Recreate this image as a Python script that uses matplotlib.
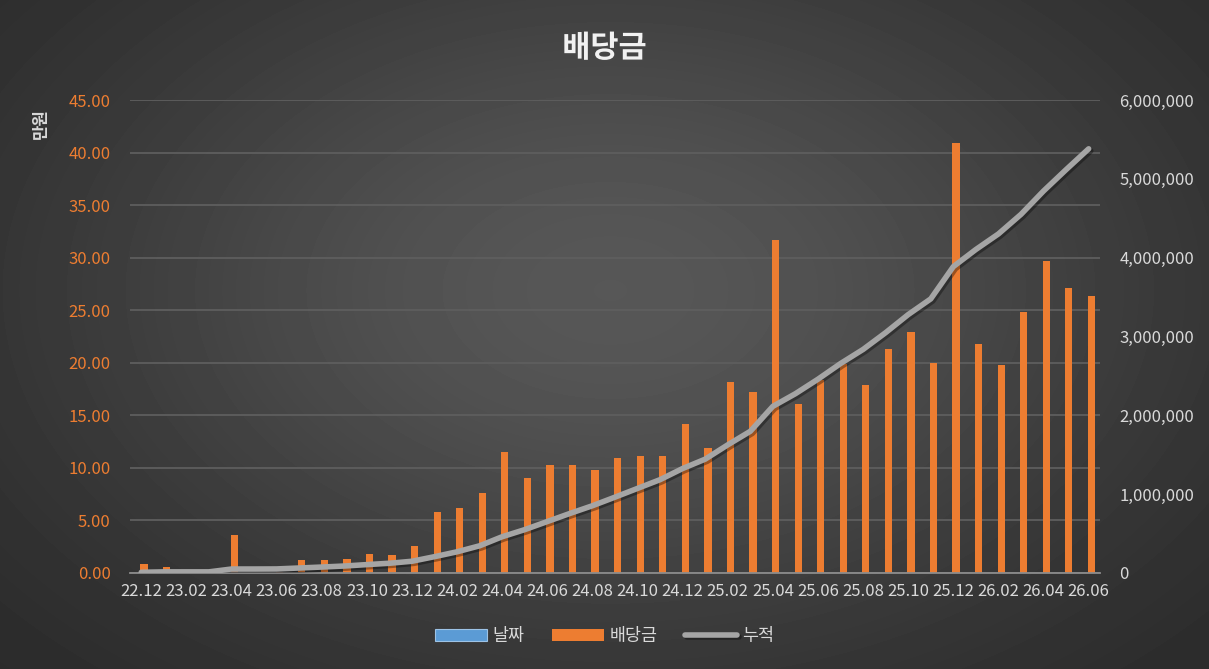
import numpy as np
import matplotlib.pyplot as plt
import matplotlib.patheffects as pe
from matplotlib.ticker import FuncFormatter, MultipleLocator

plt.rcParams['font.family'] = ['Noto Sans CJK KR', 'DejaVu Sans']

# 월 (22.12 ~ 26.06)
months = ['22.12', '23.01', '23.02', '23.03', '23.04', '23.05', '23.06', '23.07', '23.08',
          '23.09', '23.10', '23.11', '23.12', '24.01', '24.02', '24.03', '24.04', '24.05',
          '24.06', '24.07', '24.08', '24.09', '24.10', '24.11', '24.12', '25.01', '25.02',
          '25.03', '25.04', '25.05', '25.06', '25.07', '25.08', '25.09', '25.10', '25.11',
          '25.12', '26.01', '26.02', '26.03', '26.04', '26.05', '26.06']

# 날짜 시리즈 (바닥에 붙어 있음)
dates_series = [0] * len(months)

# 배당금 (만원)
dividend = [0.9, 0.55, 0, 0, 3.6, 0, 0.1, 1.2, 1.2,
            1.3, 1.8, 1.7, 2.55, 5.8, 6.2, 7.6, 11.5, 9.0,
            10.25, 10.25, 9.8, 10.9, 11.1, 11.1, 14.15, 11.85, 18.15,
            17.2, 31.65, 16.05, 18.4, 19.85, 17.9, 21.3, 22.9, 19.95,
            40.9, 21.75, 19.75, 24.8, 29.65, 27.1, 26.4]

# 누적 (원)
cumulative = [9000, 14500, 14500, 14500, 50500, 50500, 51500, 63500, 75500,
              88500, 106500, 123500, 149000, 207000, 269000, 345000, 460000, 550000,
              652500, 755000, 853000, 962000, 1073000, 1184000, 1325500, 1444000, 1625500,
              1797500, 2114000, 2274500, 2458500, 2657000, 2836000, 3049000, 3278000, 3477500,
              3886500, 4104000, 4301500, 4549500, 4846000, 5117000, 5381000]

orange = '#ED7D31'
blue = '#5B9BD5'
gray_line = '#A5A5A5'
txt = '#D9D9D9'

fig = plt.figure(figsize=(12.09, 6.69), dpi=100)

# 배경 그라데이션
bg = fig.add_axes([0, 0, 1, 1])
yy, xx = np.mgrid[0:669, 0:1209]
r2 = ((xx - 610) / 650.0) ** 2 + ((yy - 290) / 420.0) ** 2
shade = 0.15 + 0.19 * np.exp(-1.3 * r2)
bg.imshow(shade, cmap='gray', vmin=0, vmax=1, aspect='auto', extent=[0, 1, 0, 1])
bg.axis('off')

ax = fig.add_axes([0.1075, 0.1435, 0.8023, 0.707])
ax.patch.set_alpha(0)
x = np.arange(len(months))

ax.bar(x - 0.17, dates_series, width=0.3, color=blue, edgecolor='#9DC3E6', linewidth=0.8, label='날짜', zorder=3)
ax.bar(x + 0.12, dividend, width=0.32, color=orange, linewidth=0, label='배당금', zorder=3)

ax.set_ylim(0, 45)
ax.set_xlim(-0.5, len(months) - 0.5)
ax.yaxis.set_major_locator(MultipleLocator(5))
ax.yaxis.set_major_formatter(FuncFormatter(lambda v, p: f'{v:.2f}'))
ax.grid(axis='y', color='#5E5E5E', linewidth=1.3, zorder=0)
ax.set_axisbelow(True)
ax.set_xticks(x[::2])
ax.set_xticklabels(months[::2])
ax.tick_params(axis='x', colors=txt, labelsize=12, length=0, pad=7)
ax.tick_params(axis='y', colors=orange, labelsize=12, length=0, pad=14)
for s in ['top', 'right', 'left']:
    ax.spines[s].set_visible(False)
ax.spines['bottom'].set_color('#8C8C8C')
ax.spines['bottom'].set_linewidth(1.3)
ax.spines['bottom'].set_zorder(4)

ax2 = ax.twinx()
ax2.plot(x, cumulative, color=gray_line, linewidth=4, solid_capstyle='round', label='누적', zorder=5,
         path_effects=[pe.SimpleLineShadow(offset=(1.5, -1.5), alpha=0.35), pe.Normal()])
ax2.set_ylim(0, 6000000)
ax2.yaxis.set_major_locator(MultipleLocator(1000000))
ax2.yaxis.set_major_formatter(FuncFormatter(lambda v, p: f'{int(v):,}'))
ax2.tick_params(axis='y', colors=txt, labelsize=12, length=0, pad=14)
for s in ax2.spines.values():
    s.set_visible(False)

fig.text(0.5, 0.928, '배당금', ha='center', va='center', color='#F2F2F2', fontsize=22, fontweight='bold',
         path_effects=[pe.withSimplePatchShadow(offset=(1.5, -1.5), alpha=0.5)])
fig.text(0.034, 0.815, '만원', rotation=90, ha='center', va='center', color=txt, fontsize=12, fontweight='bold')

h1, l1 = ax.get_legend_handles_labels()
h2, l2 = ax2.get_legend_handles_labels()
leg = fig.legend(h1 + h2, l1 + l2, loc='center', bbox_to_anchor=(0.5, 0.049), ncol=3, frameon=False,
                 fontsize=12.5, labelcolor=txt, handlelength=3.0, handleheight=0.7, columnspacing=1.6,
                 handletextpad=0.3)

fig.savefig('out.png', dpi=100)
